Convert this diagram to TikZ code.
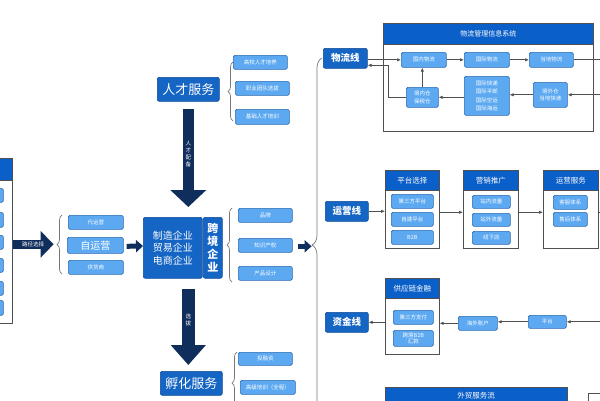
\documentclass[tikz,border=0pt]{standalone}
\usepackage{fontspec}
\newfontfamily\cjk{Noto Sans CJK SC}
\usetikzlibrary{arrows.meta,decorations.pathreplacing}
\definecolor{dblue}{HTML}{1565C4}
\definecolor{dborder}{HTML}{0E4A94}
\definecolor{hblue}{HTML}{0B5FC8}
\definecolor{ifill}{HTML}{5CA9F2}
\definecolor{iborder}{HTML}{2A68B0}
\definecolor{navy}{HTML}{102E5C}
\definecolor{lgray}{HTML}{767676}
\definecolor{cgray}{HTML}{505050}
\newcommand\fsz[2]{\fontsize{#1}{#2}\selectfont}
\newcommand\bx[7]{\node[#6, anchor=north west, minimum width={(#4-#2)*1pt}, minimum height={(#5-#3)*1pt}] (#1) at (#2,#3) {#7};}
\tikzset{
  item/.style={draw=iborder, fill=ifill, rounded corners=1.5pt, line width=0.6pt, text=white, inner sep=0pt, align=center, font=\cjk\fsz{5.5}{7.5}},
  dark/.style={draw=dborder, fill=dblue, rounded corners=2pt, line width=0.6pt, text=white, inner sep=0pt, align=center},
  cont/.style={draw=cgray, fill=white, line width=0.6pt, inner sep=0pt},
  hdr/.style={draw=cgray, fill=hblue, line width=0.6pt, text=white, inner sep=0pt, font=\cjk\fsz{7.5}{9}},
  conn/.style={draw=cgray, line width=0.7pt, -{Latex[length=4pt,width=3.4pt]}},
  plain/.style={draw=cgray, line width=0.7pt},
  brc/.style={draw=lgray, line width=0.7pt, decorate, decoration={brace, amplitude=#1}},
  bigh/.style={draw=navy, line width=9pt, -{Triangle[length=13pt 0,width=26pt 0]}},
  bigv/.style={draw=navy, line width=11pt, -{Triangle[length=17pt 0,width=35pt 0]}},
  bigw/.style={draw=navy, line width=13pt, -{Triangle[length=20pt 0,width=34pt 0]}},
  smalln/.style={draw=navy, line width=5pt, -{Triangle[length=7pt 0,width=12pt 0]}},
  lab/.style={text=white, inner sep=0pt, align=center, font=\cjk\fsz{5.5}{7}}
}
\begin{document}
\begin{tikzpicture}[x=1pt,y=-1pt]
\useasboundingbox (0,0) rectangle (600,400);
\clip (0,0) rectangle (600,400);
\fill[white] (0,0) rectangle (600,400);
% left partial container
\bx{pl}{-20}{158}{12}{323}{cont}{}
\bx{plh}{-20}{158}{12}{180}{hdr}{}
\bx{pa}{-15}{188}{3}{202}{item}{}
\bx{pb}{-15}{212}{3}{227}{item}{}
\bx{pc}{-15}{235}{3}{249}{item}{}
\bx{pd}{-15}{258}{3}{272}{item}{}
\bx{pe}{-15}{281}{3}{295}{item}{}
\bx{pf}{-15}{300}{3}{315}{item}{}
% route arrow
\draw[bigh] ([yshift=-3.5pt]pl.east) -- ++(41,0) node[lab, pos=0.5] {路径选择};
% self-operate group
\draw[brc=5pt] (62,274) -- (62,215);
\bx{y1}{68}{215}{123}{229}{item}{代运营}
\bx{y2}{67}{237}{123}{253}{item,font=\cjk\fsz{10}{12}}{自运营}
\bx{y3}{68}{260}{123}{274}{item}{供货商}
% center
\bx{cb}{143}{217}{202}{278}{dark,font=\cjk\fsz{10}{12.5}}{制造企业\\贸易企业\\电商企业}
\bx{kj}{203}{217}{222}{278}{dark,font=\cjk\bfseries\fsz{11}{13}}{跨\\境\\企\\业}
\draw[smalln] ([xshift=3pt,yshift=-1pt]y2.east) -- (cb.west |- 0,246);
% talent
\bx{rc}{157}{77}{219}{101}{dark,font=\cjk\fsz{13}{15}}{人才服务}
\draw[brc=5pt] (233,121) -- (233,62);
\bx{r1}{233}{55}{287}{69}{item}{高校人才培养}
\bx{r2}{235}{81}{289}{95}{item}{职业团队选拔}
\bx{r3}{235}{109}{289}{124}{item}{基础人才培训}
\draw[bigv, shorten <=7pt, shorten >=10pt] (rc.south) -- (rc.south |- cb.north) node[lab, pos=0.45] {人\\才\\配\\备};
% incubation
\bx{fh}{160}{371}{222}{395}{dark,font=\cjk\fsz{13}{15}}{孵化服务}
\draw[bigw, shorten <=10pt, shorten >=6pt] (rc.south |- cb.south) -- (rc.south |- fh.north) node[lab, pos=0.45] {选\\拔};
\draw[brc=5pt] (237,414) -- (237,352);
\bx{h1}{238}{352}{292}{365}{item}{投融资}
\bx{h2}{240}{380}{295}{394}{item}{高级培训（全程）}
% cross-border items
\draw[brc=5pt] (232,282) -- (232,208);
\bx{p1}{238}{208}{292}{222}{item}{品牌}
\bx{p2}{238}{238}{292}{252}{item}{知识产权}
\bx{p3}{238}{266}{292}{280}{item}{产品设计}
\draw[smalln] ([xshift=5pt,yshift=-1pt]p2.east) -- ++(14,0);
% big brace
\draw[brc=10pt] (322,432) -- (322,58);
% logistics line
\bx{wl}{323}{48}{367}{68}{dark,font=\cjk\bfseries\fsz{9.5}{11}}{物流线}
\bx{ls}{383}{23}{593}{131}{cont}{}
\bx{lsh}{383}{23}{593}{44}{hdr,font=\cjk\fsz{7}{8}}{物流管理信息系统}
\bx{l1}{401}{52}{446}{67}{item}{国内物流}
\bx{l2}{464}{52}{509}{67}{item}{国际物流}
\bx{l3}{529}{52}{573}{67}{item}{当地物流}
\bx{l4}{406}{87}{438}{107}{item}{境内仓\\保税仓}
\bx{l5}{464}{76}{509}{115}{item,font=\cjk\fsz{5.5}{8.3}}{国际快递\\国际平邮\\国际空运\\国际海运}
\bx{l6}{533}{82}{567}{107}{item}{境外仓\\当地快递}
\draw[conn] (wl.east |- l1.west) -- (l1.west);
\draw[conn] (l1) -- (l2);
\draw[conn] (l2) -- (l3);
\draw[plain] (l3.east) -- ++(40,0);
\draw[conn] (l6.east) ++(40,0) -- (l6.east);
\draw[conn] (l6.west) -- (l6.west -| l5.east);
\draw[conn] (l5.west |- l4.east) -- (l4.east);
\draw[conn] (l4.north) -- (l4.north |- l1.south);
\draw[conn] (l4.west) -- ++(-18,0) |- ([yshift=-7pt]wl.east);
% operations line
\bx{wy}{325}{201}{368}{221}{dark,font=\cjk\bfseries\fsz{9.5}{11}}{运营线}
\bx{c1}{385}{170}{439}{248}{cont}{}
\bx{c1h}{385}{170}{439}{190}{hdr}{平台选择}
\bx{c1a}{391}{194}{433}{208}{item}{第三方平台}
\bx{c1b}{391}{212}{433}{226}{item}{自建平台}
\bx{c1c}{391}{230}{433}{244}{item}{B2B}
\bx{c2}{463}{170}{518}{248}{cont}{}
\bx{c2h}{463}{170}{518}{190}{hdr}{营销推广}
\bx{c2a}{472}{195}{510}{208}{item}{站内流量}
\bx{c2b}{472}{213}{510}{226}{item}{站外流量}
\bx{c2c}{472}{231}{510}{244}{item}{线下店}
\bx{c3}{543}{170}{598}{248}{cont}{}
\bx{c3h}{543}{170}{598}{190}{hdr}{运营服务}
\bx{c3a}{553}{195}{587}{209}{item}{客服体系}
\bx{c3b}{553}{212}{587}{226}{item}{售后体系}
\draw[conn] (wy.east) -- (wy.east -| c1.west);
\draw[conn] ([yshift=-3pt]c1.east) -- ([yshift=-3pt]c2.west);
\draw[conn] ([yshift=-3pt]c2.east) -- ([yshift=-3pt]c3.west);
\draw[plain] ([yshift=-3pt]c3.east) -- ++(20,0);
% funds line
\bx{zj}{325}{312}{368}{332}{dark,font=\cjk\bfseries\fsz{9.5}{11}}{资金线}
\bx{f1}{385}{278}{439}{354}{cont}{}
\bx{f1h}{385}{278}{439}{298}{hdr}{供应链金融}
\bx{f1a}{393}{310}{433}{324}{item}{第三方支付}
\bx{f1b}{393}{330}{433}{346}{item,font=\cjk\fsz{5.5}{6.5}}{跨境B2B\\汇款}
\bx{f2}{458}{316}{497}{330}{item}{海外账户}
\bx{f3}{528}{315}{566}{328}{item}{平台}
\draw[conn] (f3.east) ++(40,0) -- (f3.east);
\draw[conn] (f3.west) -- (f3.west -| f2.east);
\draw[conn] (f2.west) -- (f2.west -| f1.east);
\draw[conn] (f1.west |- zj.east) -- (zj.east);
% trade service flow
\bx{ws}{385}{387}{567}{412}{hdr}{}
\node[lab, font=\cjk\fsz{7.5}{9}] (wst) at (476,396) {外贸服务流};
\bx{wb}{588}{393}{612}{412}{cont}{}
\end{tikzpicture}
\end{document}
